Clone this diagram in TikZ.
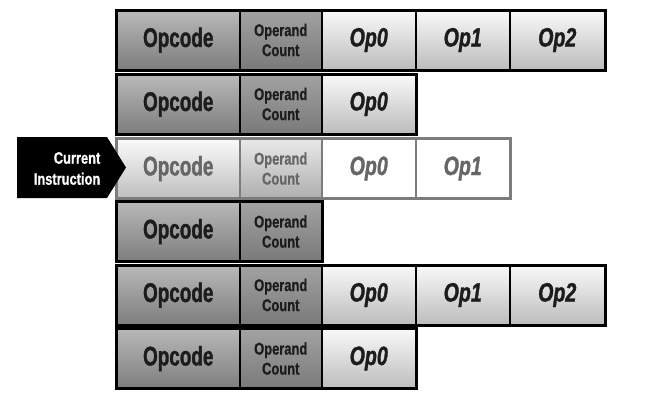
\documentclass[tikz,border=0pt]{standalone}
\usepackage{fontspec}
\newfontfamily\bigf{Liberation Sans}[FakeStretch=0.70, FakeBold=1.2]
\newfontfamily\bigfi{Liberation Sans}[FakeStretch=0.74, FakeBold=1.2]
\newfontfamily\smallf{Liberation Sans}[FakeStretch=0.76, FakeBold=0.8]
\newfontfamily\labf{Liberation Sans}[FakeStretch=0.78, FakeBold=0.8]
\definecolor{txt}{HTML}{1C1C1C}
\definecolor{ctxt}{HTML}{666666}
\definecolor{opcT}{HTML}{B8B8B8}
\definecolor{opcB}{HTML}{7E7E7E}
\definecolor{cntT}{HTML}{A2A2A2}
\definecolor{cntB}{HTML}{7A7A7A}
\definecolor{opT}{HTML}{F8F8F8}
\definecolor{opB}{HTML}{BDBDBD}
\definecolor{copcT}{HTML}{FAFAFA}
\definecolor{copcB}{HTML}{BFBFBF}
\definecolor{ccntT}{HTML}{E8E8E8}
\definecolor{ccntB}{HTML}{AFAFAF}
\definecolor{cline}{HTML}{7C7C7C}
\begin{document}
\begin{tikzpicture}[x=1pt,y=1pt,
  cell/.style={draw=black, line width=1.5pt, minimum height=58.5pt, inner sep=0, anchor=north west, text=txt},
  opc/.style={cell, minimum width=123pt, top color=opcT, bottom color=opcB, font={\bigf\bfseries\fontsize{27}{30}\selectfont}},
  cnt/.style={cell, minimum width=82pt, top color=cntT, bottom color=cntB, align=center, font={\smallf\bfseries\fontsize{17}{20}\selectfont}},
  opn/.style={cell, minimum width=94pt, top color=opT, bottom color=opB, font={\bigfi\bfseries\itshape\fontsize{26.5}{30}\selectfont}},
  opw/.style={cell, minimum width=95pt, top color=opT, bottom color=opB, font={\bigfi\bfseries\itshape\fontsize{26.5}{30}\selectfont}},
  currow/.style={draw=cline, text=ctxt},
  outer/.style={draw=black, line width=3pt},
]
\useasboundingbox (0,0) rectangle (647,-402);
% Row 1
\node[opc] (a1) at (116,-10) {Opcode};
\node[cnt] (b1) at (239,-10) {Operand\\Count};
\node[opn] (c1) at (321,-10) {Op0};
\node[opn] (d1) at (415,-10) {Op1};
\node[opw] (e1) at (509,-10) {Op2};
\draw[outer] (a1.north west) rectangle (e1.south east);
% Row 2
\node[opc] (a2) at (116,-74) {Opcode};
\node[cnt] (b2) at (239,-74) {Operand\\Count};
\node[opn] (c2) at (321,-74) {Op0};
\draw[outer] (a2.north west) rectangle (c2.south east);
% Row 3 (current)
\node[opc, currow, top color=copcT, bottom color=copcB] (a3) at (116,-138.5) {Opcode};
\node[cnt, currow, top color=ccntT, bottom color=ccntB] (b3) at (239,-138.5) {Operand\\Count};
\node[opn, currow, top color=white, bottom color=white] (c3) at (321,-138.5) {Op0};
\node[opn, currow, top color=white, bottom color=white] (d3) at (415,-138.5) {Op1};
\draw[outer, draw=cline] (a3.north west) rectangle (d3.south east);
% Row 4
\node[opc] (a4) at (116,-201.5) {Opcode};
\node[cnt] (b4) at (239,-201.5) {Operand\\Count};
\draw[outer] (a4.north west) rectangle (b4.south east);
% Row 5
\node[opc] (a5) at (116,-265) {Opcode};
\node[cnt] (b5) at (239,-265) {Operand\\Count};
\node[opn] (c5) at (321,-265) {Op0};
\node[opn] (d5) at (415,-265) {Op1};
\node[opw] (e5) at (509,-265) {Op2};
\draw[outer] (a5.north west) rectangle (e5.south east);
% Row 6
\node[opc] (a6) at (116,-328.5) {Opcode};
\node[cnt] (b6) at (239,-328.5) {Operand\\Count};
\node[opn] (c6) at (321,-328.5) {Op0};
\draw[outer] (a6.north west) rectangle (c6.south east);
% Current instruction pointer
\fill[black] (17,-137) -- (107,-137) -- (126,-167.5) -- (107,-198) -- (17,-198) -- cycle;
\node[text=white, align=right, anchor=east, inner sep=0, font={\labf\bfseries\fontsize{16.5}{21}\selectfont}] (cur) at (100.5,-168.5) {Current\\Instruction};
\end{tikzpicture}
\end{document}
